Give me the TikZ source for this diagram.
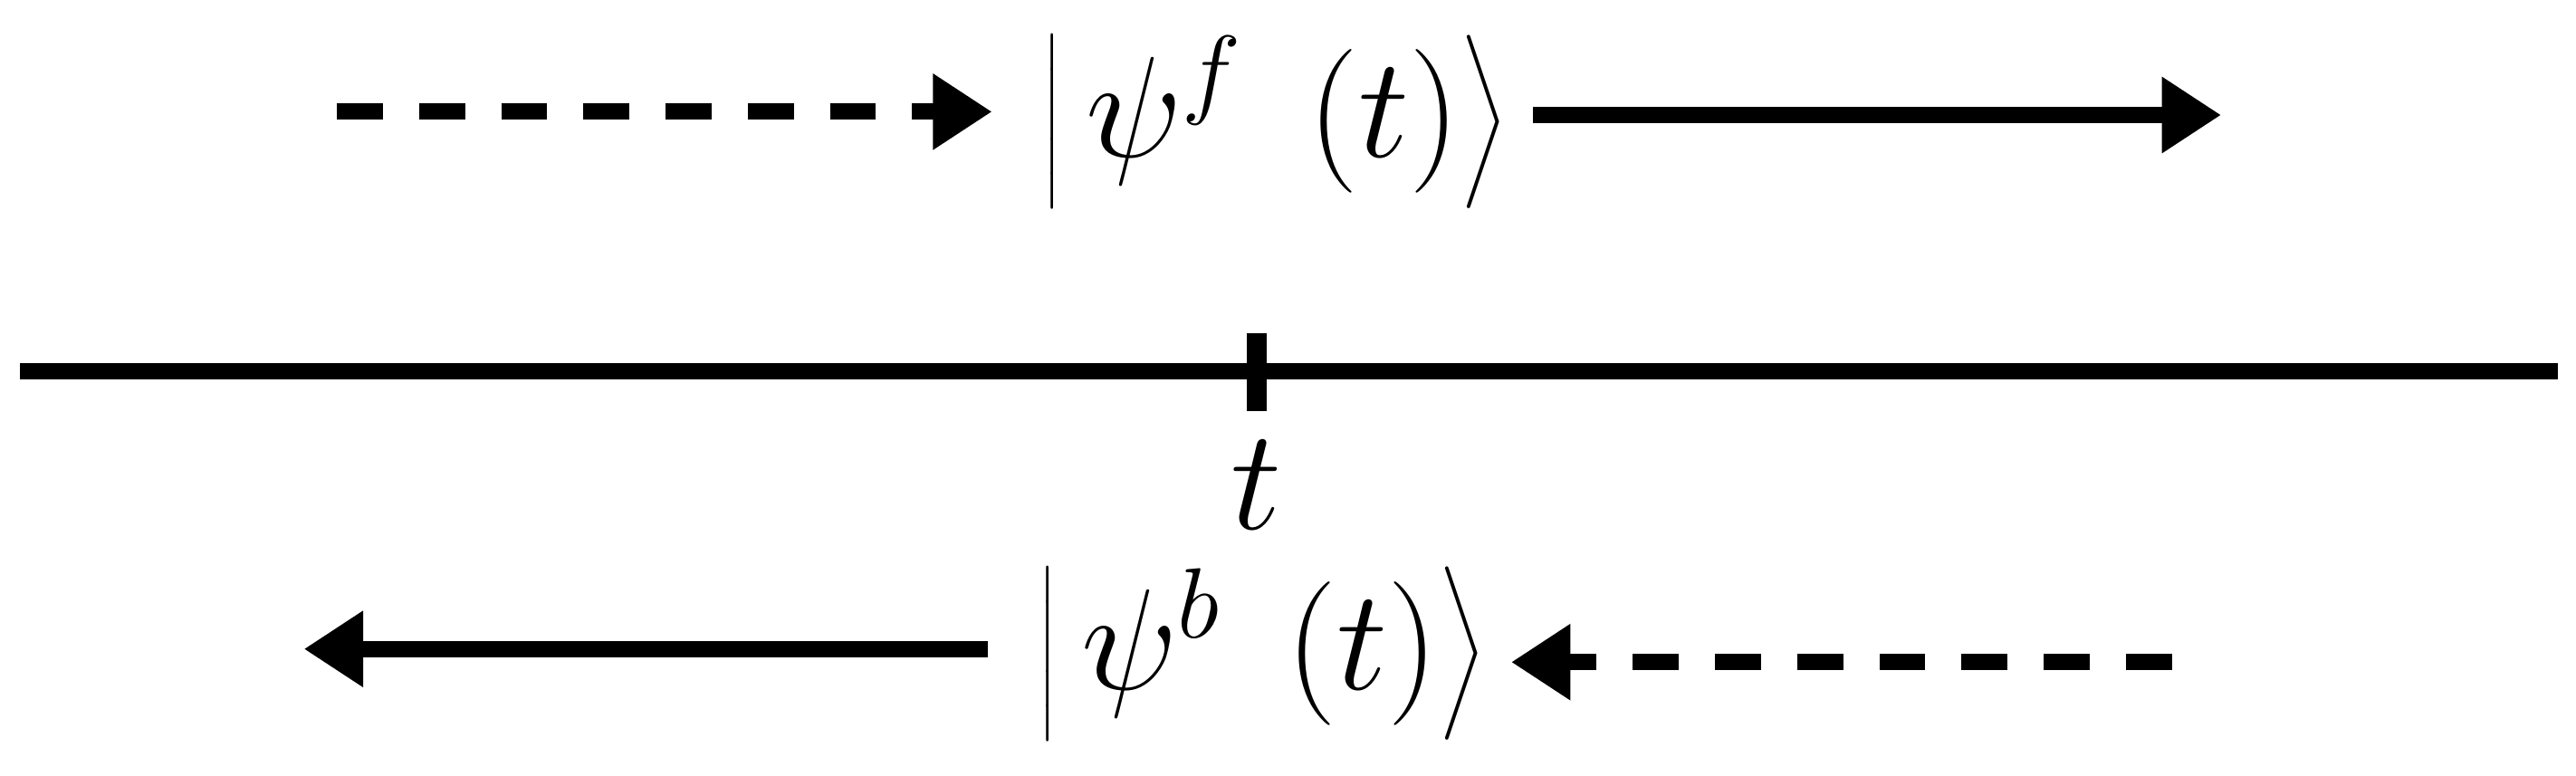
\documentclass[tikz,border=0pt]{standalone}
\usetikzlibrary{arrows.meta}
\begin{document}
\begin{tikzpicture}[x=0.01cm,y=-0.01cm,
  ln/.style={line width=2.8pt},
  arr/.style={ln,-{Triangle[length=0.36cm,width=0.44cm]}},
  dsh/.style={dash pattern=on 0.28cm off 0.22cm},
  lbl/.style={inner sep=0pt,font=\fontsize{27}{32}\selectfont}]
\useasboundingbox (0,0) rectangle (1568,472);
\node[lbl] (kf) at (776,74) {$\left|\,\psi^{f}\;\left(t\right)\right\rangle$};
\node[lbl] (kb) at (768,398) {$\left|\,\psi^{b}\;\left(t\right)\right\rangle$};
\coordinate (a1) at (205,68);
\coordinate (a2) at (1352,70);
\coordinate (b1) at (1322,403);
\coordinate (b2) at (185,395);
\draw[arr,dsh,shorten >=0.3cm] (a1) -- (kf.west|-a1);
\draw[arr,shorten <=0.15cm] (kf.east|-a2) -- (a2);
\draw[arr,shorten <=0.3cm] (kb.west|-b2) -- (b2);
\draw[arr,dsh,shorten >=0.15cm] (b1) -- (kb.east|-b1);
\coordinate (l1) at (12,226);
\coordinate (l2) at (1557,226);
\draw[ln] (l1) -- (l2);
\coordinate (t1) at (765,203);
\coordinate (t2) at (765,250);
\draw[line width=3.4pt] (t1) -- (t2);
\node[lbl] (t) at (765,295) {$t$};
\end{tikzpicture}
\end{document}
